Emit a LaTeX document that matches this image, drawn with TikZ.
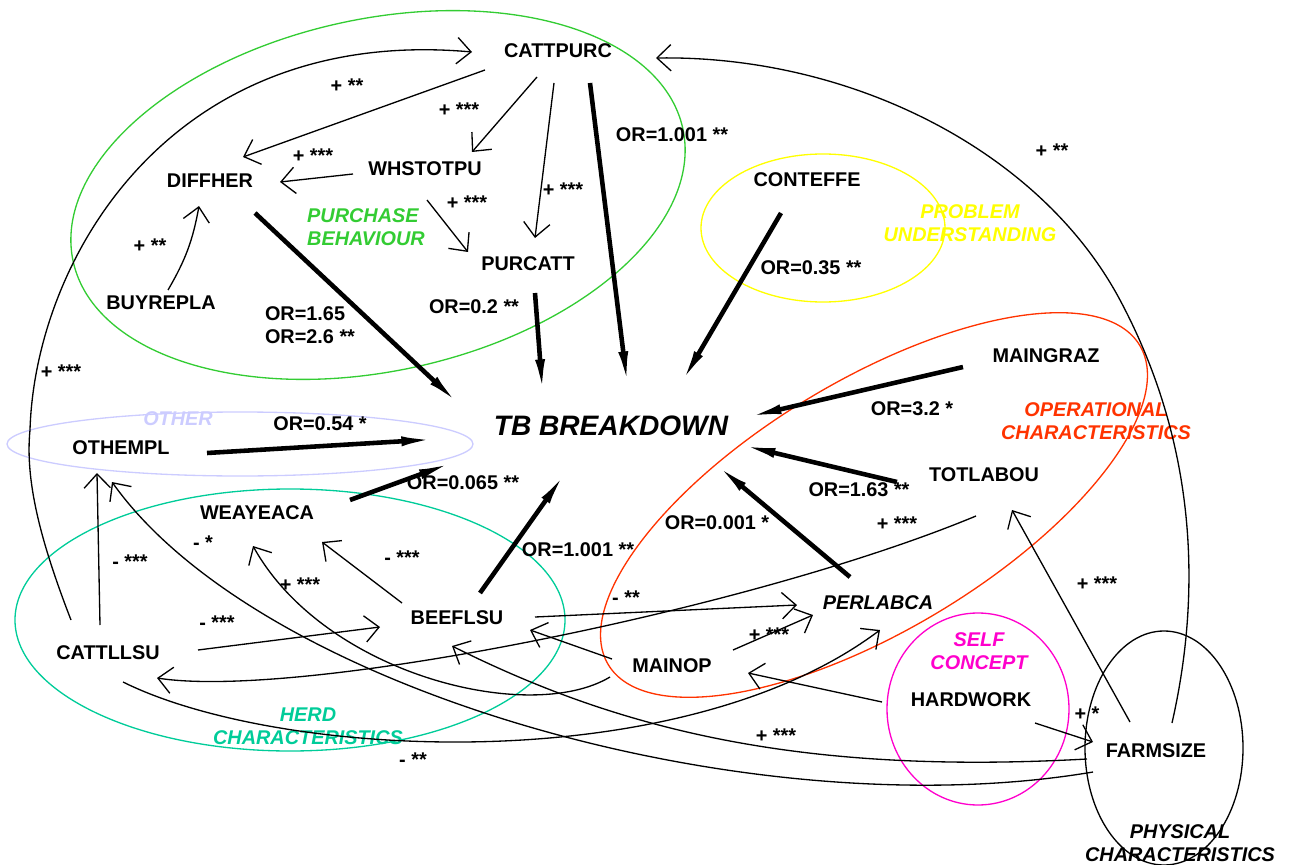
\documentclass[tikz,border=0pt]{standalone}
\usepackage{fontspec}
\setmainfont{Liberation Sans}
\usetikzlibrary{arrows.meta}
\usepackage{xcolor}

\definecolor{cgreen}{RGB}{51,204,51}
\definecolor{cyellow}{RGB}{255,255,0}
\definecolor{clav}{RGB}{204,204,255}
\definecolor{cred}{RGB}{255,51,0}
\definecolor{cteal}{RGB}{0,204,153}
\definecolor{cmag}{RGB}{255,0,204}

\tikzset{
  var/.style={font=\bfseries\fontsize{11.3}{13}\selectfont},
  grp/.style={font=\bfseries\itshape\fontsize{11.3}{13}\selectfont, align=center},
  sig/.style={font=\bfseries\fontsize{11.3}{13}\selectfont, inner sep=0pt},
  orlab/.style={font=\bfseries\fontsize{11.3}{13}\selectfont, align=left, inner sep=0pt},
  lnk/.style={line width=0.75pt, -{Straight Barb[length=8pt,width=15pt]}},
  odds/.style={line width=2.6pt, -{Latex[length=22pt,width=5.5pt]}},
  grpline/.style={line width=0.75pt},
}

\begin{document}
\begin{tikzpicture}[x=0.02cm, y=-0.02cm]
  \useasboundingbox (0,0) rectangle (1289,865);

  % groups
  \draw[grpline, cgreen, rotate around={12.3:(378,195)}] (378,195) ellipse [x radius=312, y radius=176];
  \draw[grpline, cyellow] (823,228) ellipse [x radius=122, y radius=74];
  \draw[grpline, clav] (240,444) ellipse [x radius=233, y radius=32];
  \draw[grpline, cred, rotate around={31:(874,505)}] (874,505) ellipse [x radius=310, y radius=125];
  \draw[grpline, cteal] (290,620) ellipse [x radius=275, y radius=131];
  \draw[grpline, cmag] (978,709) ellipse [x radius=91, y radius=96];
  \draw[grpline] (1164,748) ellipse [x radius=79, y radius=117];

  \node[grp, text=cgreen, align=left] (lpurch) at (366,227) {PURCHASE\\BEHAVIOUR};
  \node[grp, text=cyellow] (lprob) at (970,223) {PROBLEM\\UNDERSTANDING};
  \node[grp, text=clav] (lother) at (178,419) {OTHER};
  \node[grp, text=cred] (loper) at (1096,421) {OPERATIONAL\\CHARACTERISTICS};
  \node[grp, text=cteal] (lherd) at (308,726) {HERD\\CHARACTERISTICS};
  \node[grp, text=cmag] (lself) at (979,651) {SELF\\CONCEPT};
  \node[grp] (lphys) at (1180,843) {PHYSICAL\\CHARACTERISTICS};

  % variables
  \node[var] (cattpurc) at (558,51) {CATTPURC};
  \node[var] (diffher) at (210,181) {DIFFHER};
  \node[var] (whstotpu) at (425,169) {WHSTOTPU};
  \node[var] (purcatt) at (528,264) {PURCATT};
  \node[var] (buyrepla) at (161,303) {BUYREPLA};
  \node[var] (conteffe) at (807,180) {CONTEFFE};
  \node[var] (maingraz) at (1046,356) {MAINGRAZ};
  \node[var] (totlabou) at (984,475) {TOTLABOU};
  \node[var, font=\bfseries\itshape\fontsize{16}{18}\selectfont] (tb) at (611,426) {TB BREAKDOWN};
  \node[var] (othempl) at (121,448) {OTHEMPL};
  \node[var] (weayeaca) at (257,513) {WEAYEACA};
  \node[var] (beeflsu) at (457,618) {BEEFLSU};
  \node[var] (cattllsu) at (108,653) {CATTLLSU};
  \node[var] (mainop) at (672,666) {MAINOP};
  \node[var, font=\bfseries\itshape\fontsize{11.3}{13}\selectfont] (perlabca) at (878,603) {PERLABCA};
  \node[var] (hardwork) at (971,700) {HARDWORK};
  \node[var] (farmsize) at (1156,751) {FARMSIZE};

  % purchase links
  \draw[lnk] ([shift={(-73,19)}]cattpurc.center) -- ([shift={(33,-24)}]diffher.center);
  \draw[lnk] ([shift={(-72,5)}]whstotpu.center) -- ([shift={(70,1)}]diffher.center);
  \draw[lnk] ([shift={(-21,26)}]cattpurc.center) -- ([shift={(47,-17)}]whstotpu.center);
  \draw[lnk] ([shift={(-4,32)}]cattpurc.center) -- ([shift={(7,-26)}]purcatt.center);
  \draw[lnk] ([shift={(2,31)}]whstotpu.center) -- ([shift={(-60,-12)}]purcatt.center);
  \draw[lnk] ([shift={(7,-13)}]buyrepla.center) to[bend right=10] ([shift={(-11,25)}]diffher.center);

  % odds ratios into TB BREAKDOWN
  \draw[odds] ([shift={(45,32)}]diffher.center) -- ([shift={(-149,-19)}]tb.center);
  \draw[odds] ([shift={(32,32)}]cattpurc.center) -- ([shift={(17,-36)}]tb.center);
  \draw[odds] ([shift={(7,29)}]purcatt.center) -- ([shift={(-68,-28)}]tb.center);
  \draw[odds] ([shift={(-26,33)}]conteffe.center) -- ([shift={(68,-39)}]tb.center);
  \draw[odds] ([shift={(-83,11)}]maingraz.center) -- ([shift={(132,-8)}]tb.center);
  \draw[odds] ([shift={(-87,7)}]totlabou.center) -- ([shift={(126,18)}]tb.center);
  \draw[odds] ([shift={(-28,-26)}]perlabca.center) -- ([shift={(102,36)}]tb.center);
  \draw[odds] ([shift={(23,-25)}]beeflsu.center) -- ([shift={(-43,43)}]tb.center);
  \draw[odds] ([shift={(93,-13)}]weayeaca.center) -- ([shift={(-154,35)}]tb.center);
  \draw[odds] ([shift={(86,5)}]othempl.center) -- ([shift={(-171,13)}]tb.center);

  % long loops
  \draw[lnk] ([shift={(-37,-33)}]cattllsu.center) .. controls (40,540) and (25,480) .. (30,430)
    .. controls (35,260) and (170,25) .. ([shift={(-86,1)}]cattpurc.center);
  \draw[lnk] ([shift={(16,-28)}]farmsize.center) .. controls (1200,600) and (1200,450) .. (1120,300)
    .. controls (1040,150) and (850,55) .. ([shift={(98,7)}]cattpurc.center);

  % herd and operational links
  \draw[lnk] ([shift={(-8,-28)}]cattllsu.center) -- ([shift={(-24,25)}]othempl.center);
  \draw[lnk] ([shift={(90,-3)}]cattllsu.center) -- ([shift={(-77,9)}]beeflsu.center);
  \draw[lnk] ([shift={(-55,-15)}]beeflsu.center) -- ([shift={(65,29)}]weayeaca.center);
  \draw[lnk] ([shift={(-62,11)}]mainop.center) .. controls (530,725) and (325,675) .. ([shift={(-4,33)}]weayeaca.center);
  \draw[lnk] ([shift={(-8,41)}]totlabou.center) .. controls (750,610) and (300,700) .. ([shift={(49,25)}]cattllsu.center);
  \draw[lnk] ([shift={(-63,21)}]farmsize.center) .. controls (750,830) and (260,690) .. ([shift={(-9,34)}]othempl.center);
  \draw[lnk] ([shift={(-69,8)}]farmsize.center) .. controls (800,775) and (620,730) .. ([shift={(-5,28)}]beeflsu.center);
  \draw[lnk] ([shift={(15,29)}]cattllsu.center) .. controls (280,760) and (680,780) .. ([shift={(2,27)}]perlabca.center);
  \draw[lnk] ([shift={(-60,-7)}]mainop.center) -- ([shift={(73,12)}]beeflsu.center);
  \draw[lnk] ([shift={(78,-1)}]beeflsu.center) -- ([shift={(-81,2)}]perlabca.center);
  \draw[lnk] ([shift={(61,-16)}]mainop.center) -- ([shift={(-65,12)}]perlabca.center);
  \draw[lnk] ([shift={(-89,2)}]hardwork.center) -- ([shift={(76,7)}]mainop.center);
  \draw[lnk] ([shift={(64,23)}]hardwork.center) -- ([shift={(-63,-9)}]farmsize.center);
  \draw[lnk] ([shift={(-26,-29)}]farmsize.center) -- ([shift={(28,35)}]totlabou.center);

  % signs
  \foreach \x/\y/\t [count=\i] in {347/86/{+ **}, 459/110/{+ ***}, 313/156/{+ ***}, 467/203/{+ ***},
      563/190/{+ ***}, 150/246/{+ **}, 1052/151/{+ **}, 61/372/{+ ***}, 203/543/{- *},
      402/558/{- ***}, 130/562/{- ***}, 300/585/{+ ***}, 217/623/{- ***}, 626/598/{- **},
      769/635/{+ ***}, 897/524/{+ ***}, 1097/584/{+ ***}, 1087/714/{+ *}, 776/736/{+ ***},
      413/760/{- **}}
    \node[sig] (sign\i) at (\x,\y) {\t};

  % odds ratio labels
  \foreach \x/\y/\t [count=\i] in {672/135/{OR=1.001 **}, 811/268/{OR=0.35 **}, 474/307/{OR=0.2 **},
      310/325/{OR=1.65\\OR=2.6 **}, 320/424/{OR=0.54 *}, 463/483/{OR=0.065 **},
      578/550/{OR=1.001 **}, 717/523/{OR=0.001 *}, 859/490/{OR=1.63 **}, 912/409/{OR=3.2 *}}
    \node[orlab] (ratio\i) at (\x,\y) {\t};
\end{tikzpicture}
\end{document}
